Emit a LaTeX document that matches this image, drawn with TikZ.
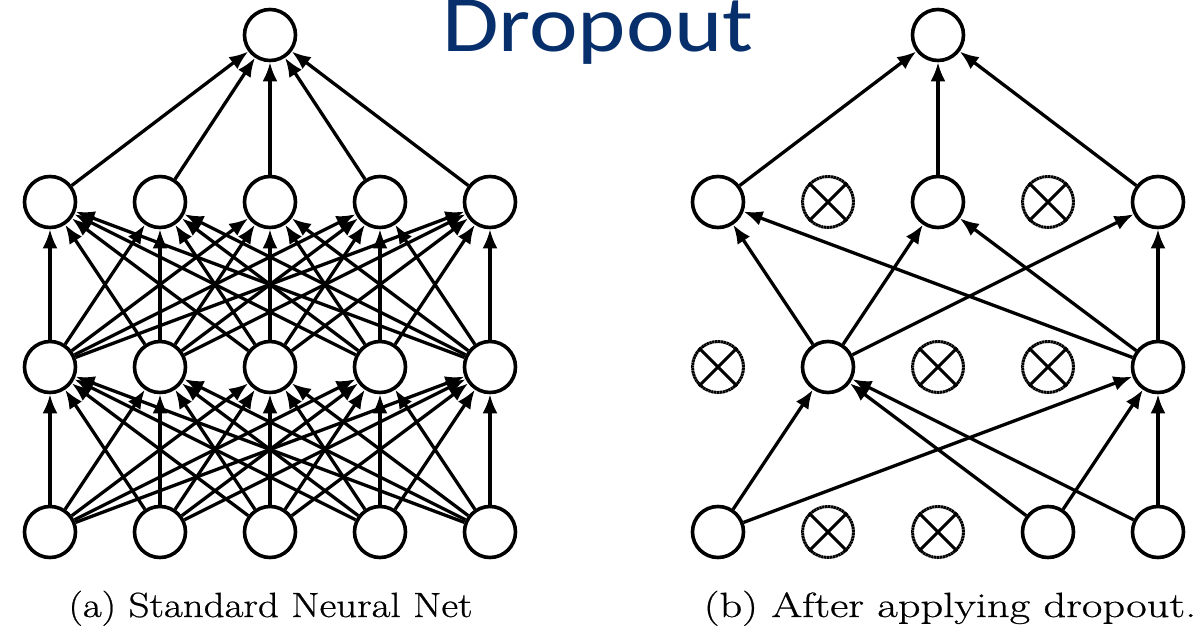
\documentclass[tikz,border=0pt]{standalone}
\usepackage{fontspec}
\usetikzlibrary{arrows.meta}
\newfontfamily\titlefont{Carlito}
\newfontfamily\capfont{Latin Modern Roman}[FakeBold=0.6]
\definecolor{titleblue}{RGB}{6,47,107}
\begin{document}
\begin{tikzpicture}[x=1bp,y=-1bp,
  neuron/.style={circle,draw,line width=3.6bp,minimum size=51bp,inner sep=0pt,fill=white},
  dropped/.style={circle,draw,line width=3bp,minimum size=51bp,inner sep=0pt,dash pattern=on 2.4bp off 0.5bp},
  cross/.style={line width=3bp},
  conn/.style={line width=3.3bp,-{Latex[length=19bp,width=15bp]}},
  caption/.style={anchor=base,inner sep=0pt,font=\capfont\fontsize{35bp}{38bp}\selectfont}
  ]
\useasboundingbox (0,0) rectangle (1202,630);
\fill[white] (0,0) rectangle (1202,630);

% title
\node[anchor=base,inner sep=0pt,text=titleblue] (title) at (598,52)
  {\titlefont\fontsize{80bp}{80bp}\selectfont\scalebox{1.15}[1]{Dropout}};

% ---------- left: standard net ----------
\foreach \i in {1,...,5} {
  \node[neuron] (la\i) at ({50+110*(\i-1)},532) {};
  \node[neuron] (lb\i) at ({50+110*(\i-1)},367) {};
  \node[neuron] (lc\i) at ({50+110*(\i-1)},202) {};
}
\node[neuron] (ltop) at (270,35) {};
\foreach \i in {1,...,5} {
  \foreach \j in {1,...,5} {
    \draw[conn] (la\i) -- (lb\j);
    \draw[conn] (lb\i) -- (lc\j);
  }
  \draw[conn] (lc\i) -- (ltop);
}

% ---------- right: after dropout ----------
\node[neuron]  (ra1) at (718,532) {};
\node[dropped] (ra2) at (828,532) {};
\node[dropped] (ra3) at (938,532) {};
\node[neuron]  (ra4) at (1048,532) {};
\node[neuron]  (ra5) at (1158,532) {};

\node[dropped] (rb1) at (718,367) {};
\node[neuron]  (rb2) at (828,367) {};
\node[dropped] (rb3) at (938,367) {};
\node[dropped] (rb4) at (1048,367) {};
\node[neuron]  (rb5) at (1158,367) {};

\node[neuron]  (rc1) at (718,202) {};
\node[dropped] (rc2) at (828,202) {};
\node[neuron]  (rc3) at (938,202) {};
\node[dropped] (rc4) at (1048,202) {};
\node[neuron]  (rc5) at (1158,202) {};

\node[neuron] (rtop) at (938,35) {};

\foreach \n in {ra2,ra3,rb1,rb3,rb4,rc2,rc4} {
  \draw[cross] (\n.north west) -- (\n.south east);
  \draw[cross] (\n.north east) -- (\n.south west);
}

\foreach \i in {ra1,ra4,ra5} {
  \foreach \j in {rb2,rb5} {
    \draw[conn] (\i) -- (\j);
  }
}
\foreach \i in {rb2,rb5} {
  \foreach \j in {rc1,rc3,rc5} {
    \draw[conn] (\i) -- (\j);
  }
}
\foreach \i in {rc1,rc3,rc5} {
  \draw[conn] (\i) -- (rtop);
}

% captions
\node[caption] (capa) at (270.5,617) {\scalebox{1.17}[1]{(a) Standard Neural Net}};
\node[caption] (capb) at (950,617) {\scalebox{1.27}[1]{(b) After applying dropout.}};
\end{tikzpicture}
\end{document}
